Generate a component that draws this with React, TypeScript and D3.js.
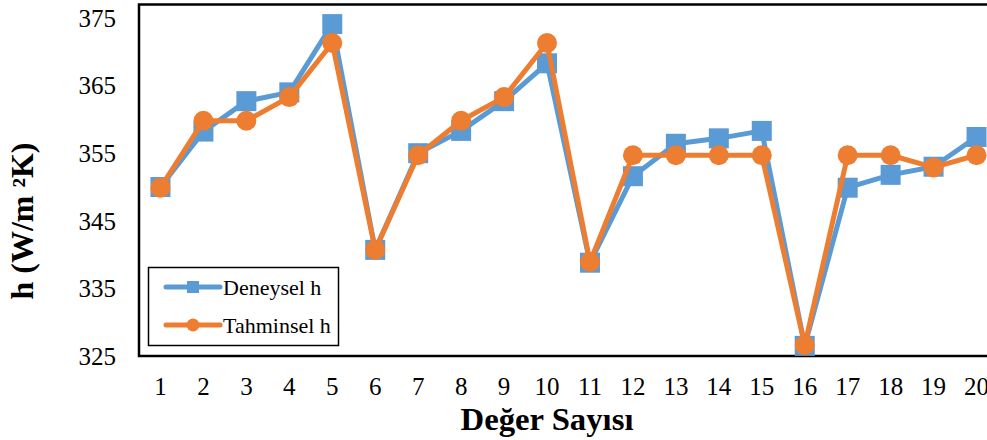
import React from "react";
import * as d3 from "d3";

const categories = ["1","2","3","4","5","6","7","8","9","10","11","12","13","14","15","16","17","18","19","20"];
const deneysel = [350, 358.2, 362.7, 364, 374.1, 340.7, 355, 358.3, 362.7, 368.3, 338.8, 351.6, 356.4, 357.2, 358.3, 326.5, 349.9, 351.8, 353, 357.4];
const tahminsel = [349.9, 359.8, 359.8, 363.3, 371.3, 340.7, 354.7, 359.8, 363.3, 371.3, 338.9, 354.7, 354.7, 354.7, 354.7, 326.6, 354.7, 354.7, 352.9, 354.7];
const yTicks = [325, 335, 345, 355, 365, 375];
const seriesNames = ["Deneysel h", "Tahminsel h"];

const W = 987, H = 440;
const left = 139, top = 4.5, bottom = 356, right = 998;
const BLUE = "#5B9BD5", ORANGE = "#ED7D31";
const FONT = "'Liberation Serif', 'Times New Roman', serif";

export default function App() {
  const x = d3.scaleBand().domain(categories).range([left, right]).padding(0);
  const y = d3.scaleLinear().domain([325, 377]).range([bottom, top]);
  const cx = (i: number) => (x(categories[i]) as number) + x.bandwidth() / 2;
  const line = d3.line<number>().x((_, i) => cx(i)).y((d) => y(d));

  return (
    <svg width={W} height={H} style={{ position: "absolute", left: 0, top: 0, background: "#fff" }}>
      <g fontFamily={FONT}>
      <rect x={0} y={0} width={W} height={H} fill="#fff" />
      <rect x={left} y={top} width={right - left} height={bottom - top} fill="none" stroke="#000" strokeWidth={2.5} />
      {yTicks.map((t) => (
        <text key={t} x={116} y={y(t)} dy="0.35em" textAnchor="end" fontSize={25} fill="#000">{t}</text>
      ))}
      {categories.map((c, i) => (
        <text key={c} x={cx(i)} y={395} textAnchor="middle" fontSize={25} fill="#000">{c}</text>
      ))}
      <path d={line(deneysel) || ""} fill="none" stroke={BLUE} strokeWidth={5} strokeLinejoin="round" />
      {deneysel.map((v, i) => (
        <rect key={"s" + i} x={cx(i) - 10} y={y(v) - 10} width={20} height={20} fill={BLUE} />
      ))}
      <path d={line(tahminsel) || ""} fill="none" stroke={ORANGE} strokeWidth={5} strokeLinejoin="round" />
      {tahminsel.map((v, i) => (
        <circle key={"c" + i} cx={cx(i)} cy={y(v)} r={10} fill={ORANGE} />
      ))}
      <rect x={148.5} y={267.5} width={190} height={78} fill="#fff" stroke="#000" strokeWidth={1.5} />
      <line x1={166} x2={220} y1={287} y2={287} stroke={BLUE} strokeWidth={5} strokeLinecap="round" />
      <rect x={187} y={281} width={12} height={12} fill={BLUE} />
      <text x={223} y={287} dy="0.35em" fontSize={22} fill="#000">{seriesNames[0]}</text>
      <line x1={166} x2={220} y1={325} y2={325} stroke={ORANGE} strokeWidth={5} strokeLinecap="round" />
      <circle cx={193} cy={325} r={6.5} fill={ORANGE} />
      <text x={223} y={325} dy="0.35em" fontSize={22} fill="#000">{seriesNames[1]}</text>
      <text x={547} y={430} textAnchor="middle" fontSize={31} fontWeight="bold" fill="#000" textLength={173} lengthAdjust="spacingAndGlyphs">Değer Sayısı</text>
      <text transform="translate(33,221) rotate(-90)" textAnchor="middle" fontSize={31} fontWeight="bold" fill="#000" textLength={157} lengthAdjust="spacingAndGlyphs">h (W/m ²K)</text>
      </g>
    </svg>
  );
}
